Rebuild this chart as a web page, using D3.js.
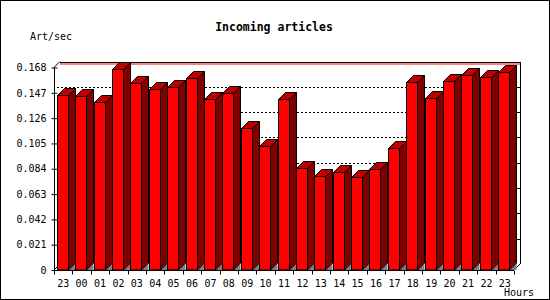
<!DOCTYPE html>
<html>
<head>
<meta charset="utf-8">
<script src="https://cdn.jsdelivr.net/npm/d3@7"></script>
<style>
  body { margin: 0; background: #fff; }
  svg { display: block; }
  text { font-family: "DejaVu Sans Mono", monospace; font-size: 10px; fill: #000; }
</style>
</head>
<body>
<svg id="chart" width="550" height="300"></svg>
<script>
'use strict';

// hours shown on the x axis (first bar is 23 of the previous day)
var hours = ['23', '00', '01', '02', '03', '04', '05', '06', '07', '08', '09', '10',
  '11', '12', '13', '14', '15', '16', '17', '18', '19', '20', '21', '22', '23'];

// articles per second
var artPerSec = [0.145, 0.144, 0.139, 0.167, 0.155, 0.150, 0.152, 0.159, 0.142, 0.147,
  0.118, 0.103, 0.142, 0.085, 0.078, 0.081, 0.077, 0.084, 0.101, 0.156, 0.143,
  0.157, 0.162, 0.160, 0.164];

var yTicks = [0, 0.021, 0.042, 0.063, 0.084, 0.105, 0.126, 0.147, 0.168];

var title = 'Incoming articles';
var yTitle = 'Art/sec';
var xTitle = 'Hours';

var svg = d3.select('#chart');

var margin = { left: 54, right: 36, top: 67.5, bottom: 30 };
var W = 550, H = 300;
var depth = 6;      // frame depth
var barDepth = 7;   // 3d offset of the bars
var barWidth = 11;

var x = d3.scaleBand()
  .domain(d3.range(hours.length))
  .range([margin.left, W - margin.right])
  .paddingInner(0);

var y = d3.scaleLinear()
  .domain([0, 0.168])
  .range([H - margin.bottom, margin.top]);

var x0 = x.range()[0], x1 = x.range()[1];
var yb = y(0), yt = y(0.168);

// image border
svg.append('rect')
  .attr('x', 0.5).attr('y', 0.5)
  .attr('width', W - 1).attr('height', H - 1)
  .attr('fill', '#fff')
  .attr('stroke', '#000');

// back wall grid lines
svg.append('g')
  .selectAll('line')
  .data(yTicks.filter(function(d) { return d > 0 && d < 0.168; }))
  .join('line')
  .attr('x1', x0 + 3).attr('x2', x1 + depth)
  .attr('y1', function(d) { return Math.round(y(d) - depth) + 0.5; })
  .attr('y2', function(d) { return Math.round(y(d) - depth) + 0.5; })
  .attr('stroke', '#000')
  .attr('stroke-dasharray', '2,2');

// back frame: top, right, red line below top
var frame = svg.append('g').attr('fill', 'none').attr('stroke', '#000');
frame.append('line')
  .attr('x1', x0 + depth).attr('x2', x1 + depth)
  .attr('y1', Math.round(yt - depth) + 0.5).attr('y2', Math.round(yt - depth) + 0.5);
frame.append('line')
  .attr('x1', x1 + depth + 0.5).attr('x2', x1 + depth + 0.5)
  .attr('y1', Math.round(yt - depth)).attr('y2', yb - depth);
frame.append('line')
  .attr('x1', x0 + depth).attr('x2', x1 + depth)
  .attr('y1', Math.round(yt - depth) + 2).attr('y2', Math.round(yt - depth) + 2)
  .attr('stroke', '#f00');

// right wall ticks
frame.selectAll('.rtick')
  .data(yTicks.filter(function(d) { return d > 0; }))
  .join('line')
  .attr('class', 'rtick')
  .attr('x1', x1 + depth - 3).attr('x2', x1 + depth)
  .attr('y1', function(d) { return Math.round(y(d) - depth) + 0.5; })
  .attr('y2', function(d) { return Math.round(y(d) - depth) + 0.5; });

// floor edges
frame.append('line')
  .attr('x1', x0).attr('y1', yb).attr('x2', x0 + depth).attr('y2', yb - depth);
frame.append('line')
  .attr('x1', x1).attr('y1', yb).attr('x2', x1 + depth).attr('y2', yb - depth);
frame.append('line')
  .attr('x1', x0).attr('y1', yt).attr('x2', x0 + depth).attr('y2', yt - depth);

// bars
var bars = svg.append('g')
  .selectAll('g')
  .data(artPerSec)
  .join('g')
  .attr('stroke', '#000')
  .attr('stroke-linejoin', 'miter');

function left(d, i) { return Math.round(x(i) + (x.bandwidth() - barWidth) / 2 - 1) + 0.5; }

bars.append('path')
  .attr('fill', '#808080')
  .attr('stroke', 'none')
  .attr('d', function(d, i) {
    var a = left(d, i) + barWidth;
    return 'M' + a + ',' + yb + 'L' + (a + barDepth) + ',' + (yb - barDepth) +
      'L' + (a + barDepth) + ',' + yb + 'Z';
  });

bars.append('path')
  .attr('fill', '#800000')
  .attr('d', function(d, i) {
    var a = left(d, i) + barWidth, t = Math.round(y(d)) + 0.5;
    return 'M' + a + ',' + t + 'L' + (a + barDepth) + ',' + (t - barDepth) +
      'L' + (a + barDepth) + ',' + (yb - barDepth) + 'L' + a + ',' + yb + 'Z';
  });

bars.append('path')
  .attr('fill', '#c00000')
  .attr('d', function(d, i) {
    var l = left(d, i), t = Math.round(y(d)) + 0.5;
    return 'M' + l + ',' + t + 'L' + (l + barDepth) + ',' + (t - barDepth) +
      'L' + (l + barWidth + barDepth) + ',' + (t - barDepth) +
      'L' + (l + barWidth) + ',' + t + 'Z';
  });

bars.append('rect')
  .attr('fill', '#f00')
  .attr('x', left)
  .attr('y', function(d) { return Math.round(y(d)) + 0.5; })
  .attr('width', barWidth)
  .attr('height', function(d) { return yb - Math.round(y(d)) - 0.5; });

// y axis
var yAxis = d3.axisLeft(y)
  .tickValues(yTicks)
  .tickSize(3)
  .tickPadding(5)
  .tickFormat(function(d) { return d === 0 ? '0' : d3.format('.3f')(d); });

var gy = svg.append('g')
  .attr('transform', 'translate(' + (x0 + 0.5) + ',0)')
  .call(yAxis);
gy.select('.domain').attr('d', 'M0,' + yt + 'V' + yb);
gy.selectAll('.tick line').attr('x2', -3).attr('x1', 3);
gy.selectAll('text').attr('font-family', null).attr('font-size', null);

// x axis
var xAxis = d3.axisBottom(x)
  .tickSize(0)
  .tickPadding(9)
  .tickFormat(function(i) { return hours[i]; });

var gx = svg.append('g')
  .attr('transform', 'translate(0,' + (yb + 0.5) + ')')
  .call(xAxis);
gx.select('.domain').attr('d', 'M' + x0 + ',0H' + x1);
gx.selectAll('text').attr('font-family', null).attr('font-size', null);

// tick marks between categories
gx.selectAll('.sep')
  .data(d3.range(hours.length + 1))
  .join('line')
  .attr('class', 'sep')
  .attr('stroke', '#000')
  .attr('x1', function(i) { return Math.round(x0 + i * x.bandwidth()) + 0.5; })
  .attr('x2', function(i) { return Math.round(x0 + i * x.bandwidth()) + 0.5; })
  .attr('y1', 0).attr('y2', 4);

// titles
svg.append('text')
  .attr('x', 274).attr('y', 31)
  .attr('text-anchor', 'middle')
  .style('font-size', '11.5px')
  .style('font-weight', 'bold')
  .text(title);

svg.append('text')
  .attr('x', 30).attr('y', 40)
  .text(yTitle);

svg.append('text')
  .attr('x', 534).attr('y', 296)
  .attr('text-anchor', 'end')
  .text(xTitle);
</script>
</body>
</html>
